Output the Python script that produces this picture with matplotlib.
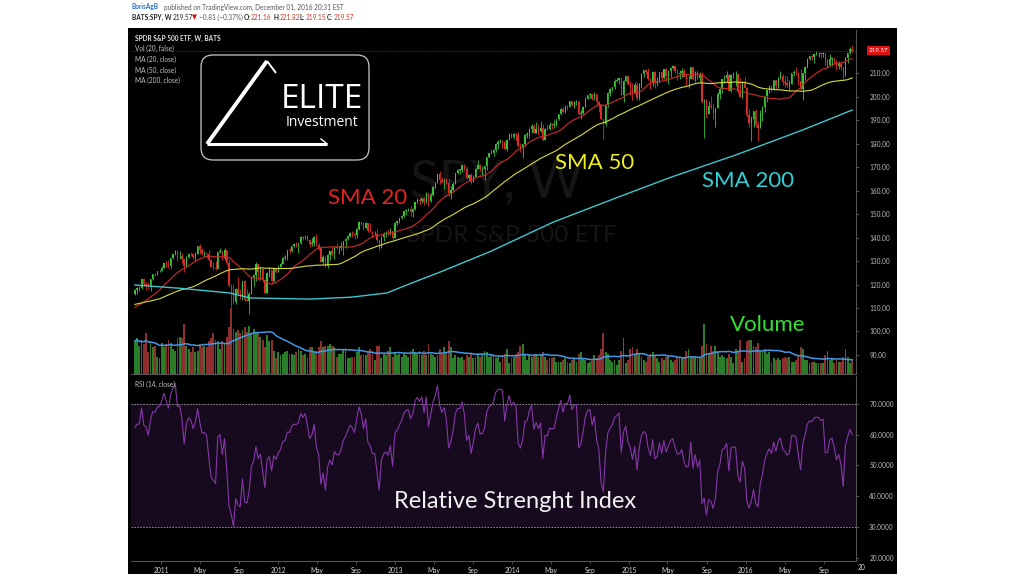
import numpy as np
import pandas as pd
import matplotlib
matplotlib.use("Agg")
import matplotlib.pyplot as plt
import matplotlib.dates as mdates
from matplotlib.patches import Rectangle, FancyBboxPatch
from matplotlib.ticker import FormatStrFormatter, FuncFormatter

plt.rcParams['font.family'] = ['Lato', 'DejaVu Sans']

# weekly closes before the first visible bar (Nov 2009 - Oct 2010), warm-up for MA / RSI
pre_close = [106.9, 109.4, 109.4, 109.9, 110.9, 111.0, 110.2, 112.8, 111.4,
             114.6, 113.6, 109.2, 107.4, 106.7, 107.0, 110.9, 110.7, 113.7, 114.7,
             115.5, 116.2, 117.8, 119.0, 119.4, 121.0, 118.8, 110.9, 113.9, 108.0,
             109.4, 106.8, 109.0, 111.7, 108.2, 102.9, 107.9, 106.5, 110.4, 110.2,
             112.4, 108.3, 107.9, 106.9, 111.0, 111.5, 112.5, 114.6, 114.1, 116.0]

# SPY weekly bars, Oct 2010 - Nov 2016
close = [
    # 2010
    117.7, 118.4, 118.5, 122.5, 120.2, 119.9, 118.8, 122.3, 124.4, 124.3, 125.6, 125.8,
    # 2011
    127.2, 129.2, 128.4, 127.7, 131.1, 132.9, 134.4, 132.0, 132.2, 130.8,
    127.8, 131.8, 133.2, 132.9, 131.9, 133.2, 136.2, 134.6, 133.3, 133.4,
    133.1, 130.4, 127.6, 127.1, 126.6, 133.9, 134.4, 131.5, 134.6, 129.3,
    120.0, 117.2, 112.6, 118.1, 116.0, 115.3, 121.4, 113.5, 113.2, 116.0,
    122.6, 124.0, 128.6, 125.4, 126.7, 122.0, 116.6, 125.0, 126.1, 121.6,
    126.6, 125.5,
    # 2012
    127.6, 128.8, 131.4, 131.7, 134.5, 134.4, 136.4, 137.1, 137.0, 137.6,
    140.3, 139.7, 140.8, 139.0, 137.1, 137.9, 140.4, 136.8, 135.6, 129.7,
    131.8, 127.8, 132.5, 134.1, 133.1, 136.1, 135.5, 135.5, 136.5, 138.5,
    139.4, 140.6, 141.8, 141.5, 140.9, 143.8, 146.6, 145.8, 144.0, 146.1,
    142.9, 142.5, 141.4, 141.4, 138.9, 135.7, 140.4, 141.5, 141.9, 141.4,
    143.0, 140.0, 146.4,
    # 2013
    147.1, 148.3, 149.4, 151.2, 151.9, 152.1, 151.1, 152.1, 155.2, 156.0,
    155.6, 156.7, 155.2, 158.8, 155.5, 158.2, 161.4, 163.4, 166.9, 164.4,
    163.5, 164.8, 163.2, 159.1, 160.4, 163.0, 167.5, 168.9, 168.9, 170.9,
    169.3, 165.5, 166.6, 163.7, 166.0, 169.3, 170.7, 169.1, 169.2, 170.3,
    174.4, 175.9, 176.2, 177.3, 180.0, 180.9, 181.0, 180.9, 177.7, 181.6,
    184.2, 183.0,
    # 2014
    184.1, 183.6, 178.9, 178.2, 179.7, 183.7, 183.9, 186.3, 187.7, 184.7,
    186.2, 185.4, 186.6, 181.5, 186.4, 186.3, 188.1, 188.0, 188.1, 190.4,
    192.7, 194.9, 193.5, 195.9, 195.8, 198.2, 196.6, 197.7, 197.9, 192.5,
    193.2, 195.7, 199.2, 200.7, 201.0, 199.1, 201.0, 197.9, 196.5, 190.5,
    188.5, 196.4, 201.7, 203.3, 204.2, 206.6, 207.2, 208.0, 200.9, 206.8,
    208.7, 205.4,
    # 2015
    204.3, 201.6, 205.0, 199.4, 205.6, 209.8, 211.2, 210.7, 207.5, 205.7,
    210.4, 205.7, 206.4, 210.4, 207.9, 211.7, 209.0, 210.8, 212.4, 212.9,
    211.1, 209.8, 209.9, 210.8, 208.5, 207.5, 207.7, 212.5, 207.5, 210.5,
    207.9, 209.4, 197.6, 198.8, 192.6, 196.0, 195.4, 192.9, 195.0, 201.3,
    203.3, 207.5, 207.9, 209.3, 202.5, 209.3, 209.6, 209.6, 201.9, 200.0,
    205.7, 203.9,
    # 2016
    192.0, 188.8, 190.5, 193.7, 188.1, 186.6, 192.9, 195.8, 200.4, 202.8,
    204.4, 203.1, 206.9, 204.5, 207.8, 209.0, 206.3, 205.7, 204.8, 205.5,
    210.2, 210.3, 209.9, 206.5, 203.2, 209.9, 212.6, 216.2, 217.2, 217.1,
    218.2, 218.5, 218.5, 218.0, 218.4, 213.3, 213.4, 216.0, 216.3, 215.0,
    213.1, 214.0, 212.5, 208.6, 216.4, 218.5, 220.4, 219.57,
]

high = [
    118.3, 118.8, 119.2, 122.8, 122.9, 121.0, 120.9, 122.5, 124.6, 124.9, 125.8, 126.2,
    127.8, 129.3, 129.9, 130.3, 131.3, 133.0, 134.7, 134.8, 134.2, 133.4,
    130.6, 132.0, 133.6, 133.9, 133.2, 133.8, 136.5, 137.2, 135.7, 134.4,
    133.5, 134.8, 130.6, 129.5, 130.1, 134.0, 135.6, 134.0, 135.4, 134.4,
    130.4, 120.3, 120.2, 118.6, 123.0, 118.3, 121.6, 122.0, 118.3, 117.0,
    122.8, 124.7, 129.7, 128.9, 127.5, 127.0, 122.3, 125.4, 127.3, 126.2,
    126.9, 127.1,
    128.4, 129.7, 131.6, 132.5, 134.7, 135.5, 136.6, 137.5, 138.2, 137.8,
    140.7, 140.8, 141.3, 141.0, 139.2, 139.9, 140.8, 141.7, 137.6, 135.6,
    132.6, 132.1, 132.9, 134.4, 136.3, 136.3, 137.5, 136.2, 138.2, 138.7,
    139.9, 141.0, 142.3, 142.7, 141.9, 143.9, 147.2, 146.8, 146.7, 146.6,
    146.1, 146.4, 143.0, 143.0, 143.6, 139.1, 140.6, 142.4, 142.6, 143.8,
    144.2, 143.0, 146.6,
    147.2, 148.5, 149.8, 151.4, 152.0, 152.6, 153.3, 152.8, 155.3, 156.7,
    156.8, 157.0, 157.2, 159.3, 158.6, 159.0, 161.8, 163.6, 167.1, 168.3,
    166.0, 165.0, 165.3, 165.2, 162.0, 163.8, 167.5, 169.3, 169.3, 171.0,
    170.9, 170.0, 167.2, 167.3, 166.8, 169.6, 172.9, 171.4, 170.3, 170.6,
    174.4, 176.2, 177.5, 177.6, 180.1, 181.6, 181.8, 181.7, 181.1, 182.0,
    184.4, 184.7,
    184.5, 184.7, 184.9, 180.3, 179.9, 184.0, 184.9, 186.6, 188.4, 188.4,
    189.2, 188.2, 189.7, 188.4, 186.7, 188.5, 189.1, 188.8, 190.0, 190.5,
    192.8, 195.0, 195.4, 196.6, 196.5, 198.3, 198.3, 198.1, 198.7, 198.7,
    194.3, 196.2, 199.8, 200.8, 201.6, 201.2, 201.9, 201.0, 198.1, 197.0,
    190.6, 196.5, 202.0, 203.6, 204.3, 207.4, 207.9, 208.1, 207.9, 207.3,
    209.0, 209.0,
    206.5, 206.0, 206.3, 206.2, 206.0, 209.9, 211.3, 211.6, 212.2, 208.0,
    211.0, 210.9, 208.5, 210.5, 211.0, 212.0, 212.3, 211.0, 212.5, 213.4,
    213.2, 212.0, 211.3, 212.1, 212.0, 209.6, 208.7, 212.6, 212.8, 211.0,
    211.2, 210.5, 210.6, 199.0, 199.1, 198.1, 200.5, 197.5, 195.3, 201.9,
    203.5, 207.6, 209.4, 211.0, 210.0, 209.6, 210.4, 211.0, 209.6, 207.8,
    206.5, 208.5,
    204.0, 194.6, 191.8, 193.7, 194.6, 189.7, 194.2, 196.2, 200.5, 202.8,
    204.9, 205.0, 207.0, 207.0, 208.2, 210.9, 209.5, 208.7, 209.0, 207.3,
    210.3, 211.3, 212.5, 210.4, 211.9, 210.3, 213.0, 216.4, 217.5, 217.8,
    218.3, 219.3, 218.9, 219.0, 218.9, 219.2, 216.2, 218.1, 216.9, 216.6,
    215.8, 215.2, 215.3, 212.7, 216.7, 218.6, 221.3, 221.8,
]

low = [
    115.6, 116.0, 117.2, 118.3, 119.8, 117.8, 118.2, 117.3, 122.0, 123.6, 124.2, 125.2,
    125.8, 126.9, 127.5, 127.0, 127.2, 130.9, 132.7, 130.2, 130.8, 129.1,
    125.3, 127.6, 131.1, 132.2, 130.7, 130.2, 133.0, 133.1, 132.7, 131.8,
    131.4, 129.9, 127.3, 126.1, 126.0, 126.6, 133.5, 130.6, 130.5, 128.3,
    119.0, 110.3, 111.7, 111.9, 116.0, 113.9, 113.5, 112.8, 113.0, 107.4,
    115.8, 119.2, 121.7, 121.9, 122.1, 120.9, 115.8, 118.6, 123.0, 120.6,
    121.2, 125.0,
    126.4, 127.4, 128.8, 130.3, 130.6, 133.4, 133.7, 135.9, 136.0, 133.5,
    137.4, 138.8, 139.2, 138.6, 135.8, 136.6, 136.4, 136.5, 134.5, 129.5,
    128.7, 127.6, 127.1, 130.6, 132.0, 130.9, 135.0, 132.9, 134.8, 132.4,
    135.4, 139.0, 140.4, 140.4, 139.5, 139.8, 143.4, 145.2, 143.1, 144.0,
    142.5, 142.3, 140.2, 140.9, 138.2, 134.7, 135.8, 138.6, 140.3, 141.0,
    141.0, 139.5, 140.0,
    145.3, 146.1, 147.8, 148.9, 149.6, 151.3, 149.0, 148.6, 151.9, 154.9,
    153.9, 154.6, 153.7, 154.9, 153.6, 155.0, 157.9, 161.2, 163.3, 163.0,
    163.4, 160.6, 162.7, 157.9, 156.4, 159.9, 162.9, 166.9, 167.0, 168.0,
    168.8, 165.1, 164.6, 162.8, 163.8, 166.0, 169.2, 168.3, 166.7, 164.5,
    168.8, 173.9, 175.5, 174.7, 176.3, 177.8, 180.1, 178.0, 177.3, 176.9,
    181.8, 182.5,
    182.0, 181.3, 178.7, 176.6, 173.7, 179.2, 182.6, 182.6, 184.6, 184.5,
    184.7, 183.8, 184.9, 181.3, 181.7, 185.7, 185.8, 186.2, 186.7, 187.7,
    190.1, 192.1, 193.0, 193.1, 194.3, 195.5, 195.9, 195.1, 196.6, 192.4,
    190.5, 192.6, 195.6, 199.2, 199.4, 198.6, 198.5, 196.0, 193.6, 190.3,
    181.9, 187.7, 195.7, 200.3, 202.4, 203.4, 206.2, 205.3, 200.8, 197.9,
    206.7, 204.9,
    200.7, 198.7, 201.0, 198.6, 198.4, 203.8, 208.5, 209.6, 206.9, 203.4,
    204.7, 203.6, 204.4, 205.7, 207.0, 207.5, 206.8, 205.3, 208.3, 211.9,
    209.9, 207.3, 207.5, 208.5, 208.3, 204.8, 203.9, 207.6, 207.2, 206.3,
    207.0, 206.1, 197.5, 182.4, 191.0, 192.5, 194.9, 190.6, 186.9, 195.1,
    198.9, 201.5, 205.8, 206.4, 202.3, 202.1, 208.1, 204.5, 201.6, 199.8,
    199.6, 203.7,
    191.5, 187.2, 181.0, 186.9, 187.0, 181.1, 186.6, 189.5, 193.5, 197.9,
    201.7, 202.0, 202.8, 203.1, 203.8, 207.7, 205.1, 204.0, 204.2, 202.8,
    205.4, 208.6, 209.4, 204.9, 203.0, 198.7, 207.0, 212.3, 215.6, 215.8,
    214.3, 217.8, 216.9, 216.6, 216.8, 213.2, 212.3, 213.2, 212.9, 214.0,
    211.3, 211.6, 211.2, 207.4, 208.6, 214.3, 218.2, 219.1,
]

# weekly volume, millions of shares
volume = [
    1050, 1150, 900, 1100, 950, 1300, 700, 1050, 850, 900, 550, 500,
    1000, 850, 950, 1100, 1000, 800, 750, 1150, 1200, 1150,
    1600, 900, 800, 700, 850, 700, 750, 950, 850, 900,
    850, 1050, 1150, 1300, 1100, 1050, 800, 1050, 1000, 1200,
    1500, 2100, 1450, 1350, 1400, 1300, 1400, 1500, 1350, 1550,
    1300, 1450, 1300, 1350, 1200, 1100, 850, 1250, 1050, 1100,
    750, 500,
    700, 600, 650, 700, 750, 650, 650, 600, 700, 800,
    750, 600, 650, 500, 850, 850, 750, 750, 850, 1050,
    850, 900, 900, 950, 900, 850, 550, 650, 650, 800,
    800, 500, 500, 550, 550, 700, 850, 600, 650, 600,
    700, 800, 750, 450, 900, 900, 500, 650, 600, 750,
    850, 550, 700,
    600, 650, 550, 650, 600, 550, 750, 800, 700, 650,
    750, 600, 750, 600, 950, 650, 600, 550, 600, 800,
    650, 850, 700, 1050, 850, 500, 600, 550, 500, 550,
    450, 600, 550, 650, 500, 550, 650, 550, 650, 750,
    700, 550, 600, 600, 500, 550, 400, 600, 650, 800,
    350, 500,
    550, 650, 700, 900, 950, 600, 450, 600, 550, 600,
    650, 550, 600, 700, 550, 450, 500, 500, 550, 400,
    400, 400, 450, 500, 400, 350, 450, 500, 400, 650,
    700, 500, 450, 350, 400, 450, 600, 500, 600, 800,
    1300, 700, 650, 450, 400, 450, 300, 450, 750, 1150,
    350, 450,
    800, 850, 600, 800, 650, 550, 450, 400, 550, 650,
    700, 600, 500, 400, 500, 450, 550, 600, 450, 400,
    450, 550, 500, 550, 500, 750, 800, 550, 550, 550,
    550, 500, 900, 1600, 950, 650, 900, 750, 900, 700,
    550, 600, 550, 500, 650, 550, 350, 800, 750, 1100,
    400, 500,
    1050, 1100, 1100, 900, 850, 1000, 750, 750, 800, 650,
    700, 400, 500, 450, 500, 450, 500, 550, 500, 550,
    400, 400, 450, 600, 850, 800, 450, 450, 350, 400,
    400, 350, 350, 350, 350, 600, 750, 450, 500, 350,
    450, 400, 400, 550, 800, 550, 350, 450,
]

# 200-week SMA (its history starts well before the visible range)
sma200_dates = ["2010-10-11", "2011-03-01", "2011-08-04", "2011-10-05", "2012-04-10",
                "2012-08-15", "2012-12-06", "2013-02-15", "2013-05-21", "2013-10-24",
                "2014-05-08", "2014-11-24", "2015-05-08", "2015-12-03", "2016-06-26",
                "2016-11-28"]
sma200_vals = [119.8, 118.4, 116.4, 114.3, 113.8, 114.6, 116.4, 120.3, 125.3, 134.0,
               146.5, 157.0, 165.5, 175.3, 185.8, 194.3]

# ---------------- derived series ----------------
dates = pd.date_range(end="2016-11-28", periods=len(close), freq="W-MON")
x = mdates.date2num(dates)
n_pre = len(pre_close)
all_close = pd.Series(pre_close + close, dtype=float)
closes = np.array(close)
opens = all_close.shift(1).iloc[n_pre:].values
highs = np.maximum(np.array(high), np.maximum(opens, closes))
lows = np.minimum(np.array(low), np.minimum(opens, closes))
sma20 = all_close.rolling(20).mean().iloc[n_pre:].values
sma50 = all_close.rolling(50).mean().iloc[n_pre:].values
vol_ma = pd.Series(volume, dtype=float).rolling(20, min_periods=1).mean().values

delta = all_close.diff()
gain = delta.clip(lower=0).ewm(alpha=1 / 14, adjust=False).mean()
loss = (-delta.clip(upper=0)).ewm(alpha=1 / 14, adjust=False).mean()
rsi = (100 - 100 / (1 + gain / loss)).iloc[n_pre:].values

# ---------------- figure ----------------
W, H = 1024, 576
fig = plt.figure(figsize=(W / 100, H / 100), dpi=100, facecolor='white')


def rect(left, top, right, bottom):
    return [left / W, 1 - bottom / H, (right - left) / W, (bottom - top) / H]


bg = fig.add_axes([0, 0, 1, 1], zorder=-1)
bg.set_xlim(0, W)
bg.set_ylim(H, 0)
bg.set_axis_off()
bg.add_patch(Rectangle((128, 28), 769, 546, facecolor='black', edgecolor='none'))
bg.text(497, 183, "SPY, W", fontsize=38, color='#151515', ha='center', va='center')
bg.text(512, 236, "SPDR S&P 500 ETF", fontsize=17.5, color='#151515', ha='center', va='center')

main_rect = rect(131, 30, 856, 374)
ax_v = fig.add_axes(main_rect, zorder=1)
ax = fig.add_axes(main_rect, zorder=2)
rs = fig.add_axes(rect(131, 376, 856, 561), zorder=2)

xlim = (mdates.date2num(pd.Timestamp("2010-09-29")), mdates.date2num(pd.Timestamp("2016-12-10")))
up = closes >= opens
candle_col = np.where(up, '#36c436', '#dc2b2b')
vol_col = np.where(up, '#2a7e2a', '#8e2e2e')

# volume
ax_v.bar(x, volume, width=5.8, color=vol_col, linewidth=0)
ax_v.plot(x, vol_ma, color='#4497e6', lw=1.1)
ax_v.set_xlim(*xlim)
ax_v.set_ylim(0, 344 * 32)
ax_v.set_axis_off()

# candles and moving averages
ax.set_facecolor('none')
ax.vlines(x, lows, highs, colors=candle_col, lw=0.6)
ax.bar(x, np.maximum(np.abs(closes - opens), 0.2), bottom=np.minimum(opens, closes),
       width=4.2, color=candle_col, linewidth=0)
ax.plot(x, sma20, color='#cf2a2a', lw=0.8)
ax.plot(x, sma50, color='#d9d93c', lw=0.8)
ax.plot(mdates.date2num(pd.to_datetime(sma200_dates)), sma200_vals, color='#3ec6cc', lw=1.0)
ax.axhline(closes[-1], color='#8b1a1a', lw=0.7, ls=(0, (1, 1)))
ax.set_xlim(*xlim)
ax.set_ylim(81.9, 228.4)
ax.yaxis.tick_right()
ax.set_yticks(np.arange(90, 211, 10))
ax.yaxis.set_major_formatter(FormatStrFormatter('%.2f'))
ax.tick_params(axis='y', colors='#666666', labelcolor='#bdbdbd', labelsize=4.7,
               length=2.5, width=0.5, pad=7)
ax.tick_params(axis='x', bottom=False, labelbottom=False)
for s in ('top', 'left'):
    ax.spines[s].set_visible(False)
for s in ('right', 'bottom'):
    ax.spines[s].set_color('#555555')
    ax.spines[s].set_linewidth(0.8)

# RSI pane
rs.set_facecolor('none')
rs.axhspan(30, 70, color='#170a1f', lw=0)
rs.axhline(70, color='#a0a0a0', lw=0.6, ls=(0, (2, 1.5)))
rs.axhline(30, color='#a0a0a0', lw=0.6, ls=(0, (2, 1.5)))
rs.plot(x, rsi, color='#8438a6', lw=0.8)
rs.set_xlim(*xlim)
rs.set_ylim(18.94, 79.1)
rs.yaxis.tick_right()
rs.set_yticks(np.arange(20, 71, 10))
rs.yaxis.set_major_formatter(FormatStrFormatter('%.4f'))
rs.tick_params(axis='y', colors='#666666', labelcolor='#bdbdbd', labelsize=4.7,
               length=2.5, width=0.5, pad=7)
rs.xaxis.set_major_locator(mdates.MonthLocator(bymonth=[1, 5, 9]))


def time_label(v, pos):
    d = mdates.num2date(v)
    return d.strftime('%Y') if d.month == 1 else d.strftime('%b')


rs.xaxis.set_major_formatter(FuncFormatter(time_label))
rs.tick_params(axis='x', colors='#666666', labelcolor='#dadada', labelsize=4.8,
               length=2, width=0.5, pad=2)
for s in ('top', 'left'):
    rs.spines[s].set_visible(False)
for s in ('right', 'bottom'):
    rs.spines[s].set_color('#555555')
    rs.spines[s].set_linewidth(0.8)

# ---------------- overlay texts ----------------
ov = fig.add_axes([0, 0, 1, 1], zorder=10)
ov.set_xlim(0, W)
ov.set_ylim(H, 0)
ov.set_axis_off()

small = dict(fontsize=4.7, va='center', ha='left')
ov.text(132, 7, "BorisAgB", color='#2a72c8', weight='bold', **small)
ov.text(164, 7, "published on TradingView.com, December 01, 2016 20:31 EST", color='#555555', **small)
ov.text(132, 17, "BATS:SPY, W", color='#222222', weight='bold', **small)
ov.text(173, 17, "219.57", color='#222222', **small)
ov.text(192, 17, "▼", color='#d01010', **small)
ov.text(199, 17, "\u22120.81 (\u22120.37%)", color='#555555', **small)
for lx, lab, vx, val in [(244, "O:", 251, "221.16"), (273, "H:", 280, "221.82"),
                         (300, "L:", 306, "219.15"), (327, "C:", 334, "219.57")]:
    ov.text(lx, 17, lab, color='#222222', weight='bold', **small)
    ov.text(vx, 17, val, color='#c0392b', **small)

ov.text(135, 38, "SPDR S&P 500 ETF, W, BATS", color='#e4e4e4', weight='bold', **small)
for yy, lab in [(48, "Vol (20, false)"), (59, "MA (20, close)"),
                (70, "MA (50, close)"), (80, "MA (200, close)")]:
    ov.text(135, yy, lab, color='#c4c4c4', **small)
ov.text(135, 384, "RSI (14, close)", color='#c4c4c4', **small)

ov.text(878.5, 50.5, f"{closes[-1]:.2f}", color='white', fontsize=4.5, ha='center', va='center',
        bbox=dict(boxstyle='square,pad=0.25', facecolor='#e21111', edgecolor='none'))
ov.text(862, 567, "20", color='#dadada', fontsize=4.8, ha='center', va='center')

# logo
ov.add_patch(FancyBboxPatch((201, 55), 168, 105, boxstyle='round,pad=0,rounding_size=12',
                            facecolor='black', edgecolor='#c8c8c8', lw=0.9))
ov.plot([207, 267], [144, 61], color='white', lw=2.8, solid_capstyle='butt')
ov.plot([267, 276], [61, 73], color='white', lw=1.4, solid_capstyle='butt')
ov.plot([207, 327], [144, 144], color='white', lw=2.2, solid_capstyle='butt')
ov.plot([327, 321], [144, 139], color='white', lw=1.0)
ov.text(322, 100, "ELITE", color='white', fontsize=24, family=['Open Sans', 'DejaVu Sans'],
        ha='center', va='center')
ov.text(322, 122, "Investment", color='white', fontsize=10, family=['Open Sans', 'DejaVu Sans'],
        ha='center', va='center')

# annotations
ov.text(368, 198, "SMA 20", color='#e32222', fontsize=16, ha='center', va='center')
ov.text(595, 163, "SMA 50", color='#eeee22', fontsize=16, ha='center', va='center')
ov.text(748, 181, "SMA 200", color='#33d0d8', fontsize=16, ha='center', va='center')
ov.text(768, 325, "Volume", color='#33e033', fontsize=16, ha='center', va='center')
ov.text(515, 502, "Relative Strenght Index", color='#f2f2f2', fontsize=17, ha='center', va='center')

fig.savefig("out.png", dpi=100, facecolor='white')
